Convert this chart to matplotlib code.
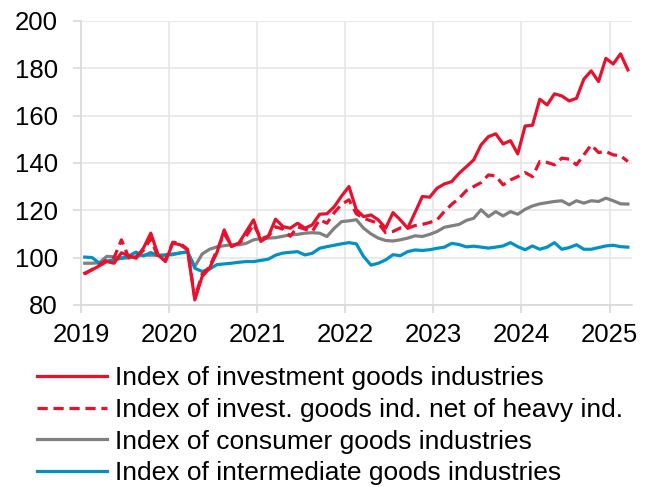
import numpy as np
import pandas as pd
import matplotlib
matplotlib.use('Agg')
import matplotlib.pyplot as plt

# monthly index values, Jan 2019 - Mar 2025
invest = [93.4, 94.8, 96.5, 98.3, 97.6, 102.0, 100.8, 99.7, 104.0, 110.3, 101.1, 98.3,
          106.1, 105.4, 103.3, 82.1, 92.0, 95.5, 102.0, 111.7, 104.6, 106.1, 111.0, 115.9,
          106.8, 108.9, 116.2, 113.1, 112.4, 114.5, 112.4, 113.8, 118.3, 118.5, 121.5, 126.0,
          130.0, 120.2, 117.3, 118.0, 115.9, 112.4, 119.0, 115.9, 112.4, 119.0, 125.8, 125.5,
          129.3, 131.1, 132.1, 135.6, 138.4, 141.3, 147.6, 151.1, 152.3, 148.0, 149.4, 143.8,
          155.6, 155.9, 166.9, 164.5, 169.2, 168.3, 166.2, 167.3, 175.4, 178.9, 174.4, 184.2,
          181.8, 186.1, 179.3]
invest_net = [93.0, 95.0, 97.0, 99.0, 100.0, 107.5, 100.0, 100.5, 103.0, 108.0, 100.0, 99.0,
              106.5, 106.0, 103.5, 83.0, 93.0, 96.0, 103.0, 110.0, 105.0, 106.0, 109.0, 114.0,
              108.0, 109.0, 113.0, 112.0, 109.0, 113.0, 112.0, 111.0, 116.0, 114.5, 119.0, 122.5,
              124.4, 118.5, 116.6, 115.5, 114.5, 110.5, 111.0, 112.5, 112.4, 113.5, 114.0, 114.8,
              115.9, 119.5, 122.5, 125.0, 128.3, 130.0, 131.7, 134.9, 134.5, 130.7, 132.8, 134.2,
              135.9, 134.2, 140.6, 140.2, 139.2, 142.0, 141.6, 139.2, 143.4, 147.6, 144.4, 144.8,
              143.4, 143.0, 140.6]
consumer = [97.6, 97.6, 97.8, 100.5, 100.3, 99.8, 99.8, 100.5, 101.0, 101.0, 101.0, 101.0,
            101.2, 102.0, 102.3, 96.2, 101.5, 103.5, 104.5, 105.0, 105.4, 105.4, 106.0, 107.5,
            108.0, 108.2, 108.4, 109.0, 109.6, 109.8, 110.3, 110.5, 110.3, 108.9, 112.4, 115.2,
            115.5, 116.0, 112.4, 110.0, 108.2, 107.2, 107.0, 107.5, 108.2, 109.2, 108.9, 109.8,
            111.0, 112.8, 113.4, 114.0, 115.7, 116.6, 120.2, 117.3, 119.4, 117.6, 119.4, 118.3,
            120.4, 121.8, 122.7, 123.2, 123.7, 124.0, 122.3, 124.0, 123.0, 124.0, 123.7, 125.1,
            124.0, 122.7, 122.6]
intermediate = [100.2, 100.0, 97.6, 98.5, 99.0, 99.7, 100.7, 102.3, 100.7, 102.1, 100.8, 101.1,
                101.5, 101.9, 102.5, 95.5, 94.1, 95.1, 97.0, 97.3, 97.6, 98.0, 98.3, 98.3,
                98.8, 99.3, 101.0, 101.9, 102.2, 102.5, 101.1, 101.8, 103.9, 104.6, 105.2, 105.8,
                106.3, 105.8, 100.4, 96.8, 97.6, 99.0, 101.2, 100.8, 102.5, 103.2, 103.0, 103.3,
                103.9, 104.4, 106.0, 105.5, 104.5, 104.8, 104.4, 104.0, 104.4, 104.9, 106.3, 104.6,
                103.3, 104.9, 103.5, 104.4, 106.3, 103.5, 104.2, 105.4, 103.5, 103.5, 104.2, 104.9,
                105.2, 104.6, 104.4]

labels = ['Index of investment goods industries',
          'Index of invest. goods ind. net of heavy ind.',
          'Index of consumer goods industries',
          'Index of intermediate goods industries']
years = [2019, 2020, 2021, 2022, 2023, 2024, 2025]

dates = pd.date_range('2019-01-01', periods=len(invest), freq='MS')
t = dates.year + (dates.month - 0.5) / 12.0

red = '#E8112D'
grey = '#808080'
blue = '#0091C6'

plt.rcParams['font.family'] = ['Liberation Sans', 'DejaVu Sans']

fig = plt.figure(figsize=(6.59, 4.87), dpi=100)
ax = fig.add_axes([0.123, 0.374, 0.836, 0.583])

ax.plot(t, invest, color=red, lw=2.3, label=labels[0], zorder=5)
ax.plot(t, invest_net, color=red, lw=2.3, dashes=(3.2, 1.8), label=labels[1], zorder=4)
ax.plot(t, consumer, color=grey, lw=2.3, label=labels[2], zorder=3)
ax.plot(t, intermediate, color=blue, lw=2.3, label=labels[3], zorder=3)

ax.set_xlim(2019, 2025.255)
ax.set_ylim(80, 200)
ax.set_xticks(years)
ax.set_xticklabels([str(y) for y in years])
ax.set_yticks(range(80, 201, 20))

ax.grid(True, color='#E6E6E6', lw=1.2)
ax.set_axisbelow(True)
for s in ['top', 'right']:
    ax.spines[s].set_visible(False)
for s in ['left', 'bottom']:
    ax.spines[s].set_color('#D9D9D9')
    ax.spines[s].set_linewidth(1.2)
ax.tick_params(axis='both', colors='#D9D9D9', width=1.2, length=5.8, labelsize=18.5,
               labelcolor='black')
ax.tick_params(axis='y', pad=11)
ax.tick_params(axis='x', pad=7)

leg = fig.legend(loc='upper left', bbox_to_anchor=(0.056, 0.248), frameon=False,
                 fontsize=19, handlelength=2.65, handletextpad=0.3, labelspacing=0.29,
                 borderaxespad=0, borderpad=0)

fig.savefig('out.png', dpi=100)
